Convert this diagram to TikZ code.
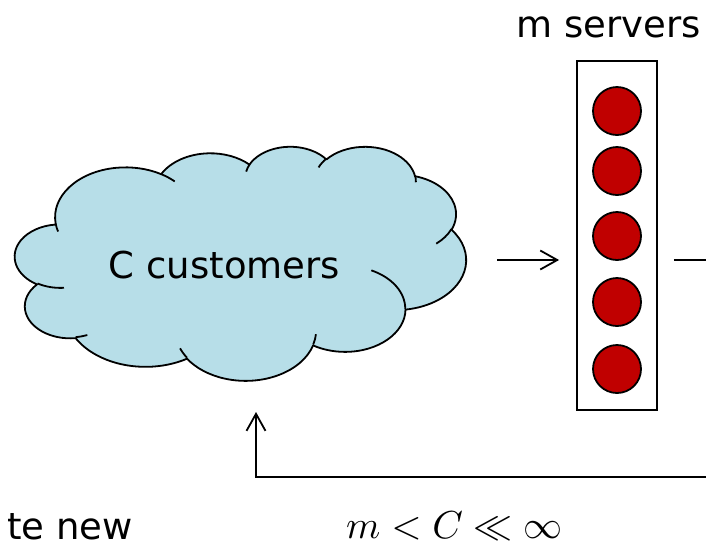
\documentclass[tikz,border=0pt]{standalone}
\usepackage{fontspec}
\setmainfont{DejaVu Sans}
\usetikzlibrary{arrows.meta}
\definecolor{cloudblue}{RGB}{183,222,232}
\definecolor{srvred}{RGB}{192,0,0}

% Elliptical arc given by visual start angle and sweep (radii wR, hR),
% converted to TikZ's parametric angles.
\newcommand\cloudarc[4]{arc[x radius=#1, y radius=#2,
  start angle={atan2((#1)*sin(#3),(#2)*cos(#3))},
  delta angle={mod(atan2((#1)*sin((#3)+(#4)),(#2)*cos((#3)+(#4)))-atan2((#1)*sin(#3),(#2)*cos(#3))+720,360)}]}

\tikzset{
  outline/.style={line width=1.8pt, line join=round},
  arr/.style={line width=1.8pt, -{Straight Barb[length=17pt,width=19pt]}},
  srv/.style={circle, draw, line width=1.8pt, fill=srvred, minimum size=48pt, inner sep=0pt},
  lbl/.style={font=\fontsize{37}{44}\selectfont, inner sep=0pt, anchor=base},
  mathlbl/.style={font=\fontsize{10}{12}\selectfont, scale=3.9, inner sep=0pt, anchor=base},
}

\begin{document}
\begin{tikzpicture}[x=1pt, y=-1pt]
\useasboundingbox (0,0) rectangle (706,542);

% customer population: cloud outline
\node[minimum width=451pt, minimum height=234pt, inner sep=0pt] (cloud) at (240.5,263) {};
\begin{scope}[shift={(15,146)}, x=1.04398pt, y=-0.541667pt, outline]
  \filldraw[fill=cloudblue] (39.00,143.70)
    \cloudarc{67.53}{91.90}{-190.4875}{123.7805}
    \cloudarc{53.33}{72.67}{-144.1024}{89.9452}
    \cloudarc{43.65}{59.45}{-145.8079}{99.7230}
    \cloudarc{48.57}{65.95}{-130.9861}{117.2417}
    \cloudarc{53.33}{72.73}{-78.7089}{109.0269}
    \cloudarc{67.75}{92.20}{-46.2673}{130.2690}
    \cloudarc{57.85}{78.67}{0.6250}{114.0333}
    \cloudarc{67.52}{92.15}{22.4516}{115.1726}
    \cloudarc{77.20}{105.43}{66.2426}{75.7110}
    \cloudarc{43.60}{59.18}{-274.9421}{146.7356}
    \cloudarc{43.45}{59.45}{-246.8285}{152.5189}
    -- cycle;
  % inner creases of the cloud
  \draw (46.93,261.77) \cloudarc{43.45}{59.45}{86.7420}{26.4295};
  \draw (69.28,348.99) \cloudarc{43.60}{59.18}{73.6105}{11.4475};
  \draw (164.78,390.90) \cloudarc{67.52}{92.15}{137.6242}{14.0811};
  \draw (288.27,347.51) \cloudarc{67.52}{92.15}{6.4533}{15.9984};
  \draw (341.29,229.54) \cloudarc{57.85}{78.67}{-70.2924}{70.9174};
  \draw (417.98,153.54) \cloudarc{53.33}{72.73}{30.3180}{27.7515};
  \draw (383.24,54.26) \cloudarc{48.57}{65.95}{-13.7443}{14.8589};
  \draw (290.78,39.52) \cloudarc{48.57}{65.95}{-149.1815}{18.1954};
  \draw (221.41,47.20) \cloudarc{43.65}{59.45}{-163.4943}{17.6864};
  \draw (140.00,51.92) \cloudarc{67.53}{91.90}{-66.7070}{12.3194};
  \draw (41.27,157.89) \cloudarc{67.53}{91.90}{157.6544}{11.8582};
\end{scope}
\node[lbl] (cust) at (224.5,278) {C customers};

% server bank
\node[draw, line width=1.8pt, minimum width=80pt, minimum height=349pt, inner sep=0pt] (box) at (617,235.5) {};
\foreach \yy [count=\i] in {111,171,236,302,369}
  \node[srv] (s\i) at (617,\yy) {};
\node[lbl] (mlab) at (609,37) {m servers};

% connectors
\coordinate (yin) at (0,260);
\coordinate (outR) at (706,260);
\coordinate (fbR) at (706,477);
\coordinate (fbT) at (256,412);
\draw[arr, shorten <=31pt, shorten >=17pt] (cloud.east |- yin) -- (box.west |- yin);
\draw[outline, shorten <=16pt] (box.east |- yin) -- (outR);
\draw[arr] (fbR) -| (fbT);

% bottom texts
\node[lbl, anchor=base east] (gen) at (133,539) {te new};
\node[mathlbl] (rel) at (454.5,538) {$m < C \ll \infty$};
\end{tikzpicture}
\end{document}
